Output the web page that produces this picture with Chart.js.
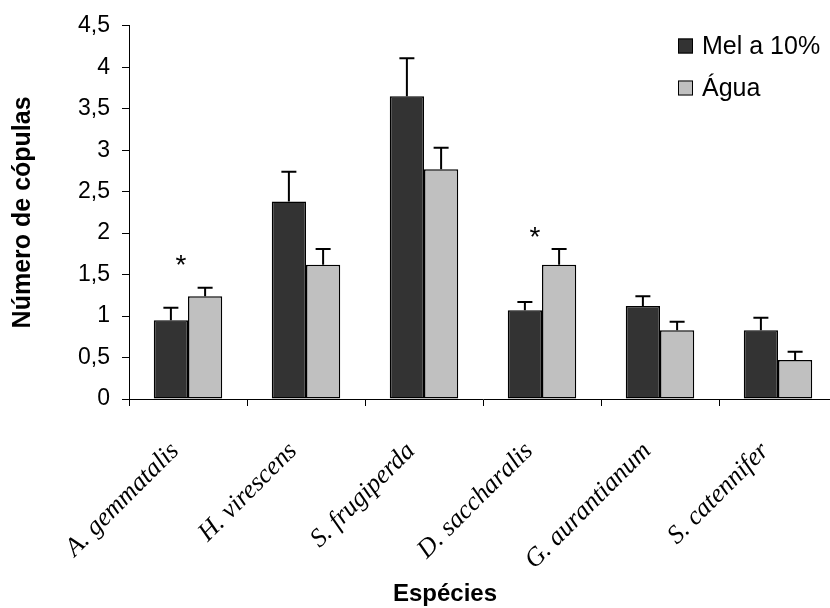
<!DOCTYPE html>
<html>
<head>
<meta charset="utf-8">
<script src="https://cdn.jsdelivr.net/npm/chart.js@4.4.1/dist/chart.umd.min.js"></script>
<style>
  html, body { margin: 0; padding: 0; background: #fff; overflow: hidden; }
  #wrap { width: 830px; height: 608px; overflow: hidden; }
</style>
</head>
<body>
<div id="wrap"><canvas id="chart" width="837" height="608"></canvas></div>
<script>
'use strict';

// data
const species = ['A. gemmatalis', 'H. virescens', 'S. frugiperda', 'D. saccharalis', 'G. aurantianum', 'S. catennifer'];
const melMeans = [0.95, 2.38, 3.65, 1.07, 1.12, 0.83];
const melErr = [0.15, 0.36, 0.46, 0.10, 0.12, 0.15];
const aguaMeans = [1.24, 1.62, 2.77, 1.62, 0.83, 0.47];
const aguaErr = [0.10, 0.19, 0.26, 0.19, 0.10, 0.10];
const signif = ['*', '', '', '*', '', ''];
const signifAt = [1.65, null, null, 1.99, null, null];
const yTickLabels = ['0', '0,5', '1', '1,5', '2', '2,5', '3', '3,5', '4', '4,5'];

const sans = '"Liberation Sans", Arial, sans-serif';
const serif = '"Liberation Serif", "Times New Roman", serif';
const errors = [melErr, aguaErr];

// error bars, stars, rotated species names, x title and legend
const extras = {
    id: 'extras',
    afterDatasetsDraw(chart) {
        const ctx = chart.ctx;
        const ys = chart.scales.y;
        ctx.save();
        ctx.strokeStyle = '#000';
        ctx.lineWidth = 2;
        chart.data.datasets.forEach((ds, d) => {
            const meta = chart.getDatasetMeta(d);
            meta.data.forEach((bar, j) => {
                const top = ys.getPixelForValue(ds.data[j] + errors[d][j]);
                ctx.beginPath();
                ctx.moveTo(bar.x, bar.y);
                ctx.lineTo(bar.x, top);
                ctx.moveTo(bar.x - 7.5, top);
                ctx.lineTo(bar.x + 7.5, top);
                ctx.stroke();
            });
        });
        ctx.restore();
    },
    afterDraw(chart) {
        const ctx = chart.ctx;
        const xs = chart.scales.x;
        const ys = chart.scales.y;
        ctx.save();
        ctx.fillStyle = '#000';

        // significance stars
        ctx.font = '28px ' + sans;
        ctx.textAlign = 'center';
        ctx.textBaseline = 'middle';
        signif.forEach((s, i) => {
            if (!s) return;
            ctx.fillText(s, xs.getPixelForValue(i) - 7, ys.getPixelForValue(signifAt[i]) + 4);
        });

        // species names, rotated 45 degrees
        ctx.font = 'italic 26px ' + serif;
        ctx.textAlign = 'right';
        ctx.textBaseline = 'alphabetic';
        species.forEach((name, i) => {
            ctx.save();
            ctx.translate(xs.getPixelForValue(i) - 8, xs.top + 53);
            ctx.rotate(-Math.PI / 4);
            ctx.fillText(name, 0, 0);
            ctx.restore();
        });

        // x axis title
        ctx.font = 'bold 24px ' + sans;
        ctx.textAlign = 'center';
        ctx.fillText('Espécies', 445, 601);

        // legend
        ctx.font = '25px ' + sans;
        ctx.textAlign = 'left';
        ctx.textBaseline = 'middle';
        chart.data.datasets.forEach((ds, d) => {
            const rowY = 46 + d * 42;
            ctx.fillStyle = ds.backgroundColor;
            ctx.fillRect(678, rowY - 7.5, 15, 15);
            ctx.strokeStyle = '#000';
            ctx.lineWidth = 1;
            ctx.strokeRect(678.5, rowY - 7, 14, 14);
            ctx.fillStyle = '#000';
            ctx.fillText(ds.label, 702, rowY + 1);
        });
        ctx.restore();
    }
};

const ctx = document.getElementById('chart').getContext('2d');
new Chart(ctx, {
    type: 'bar',
    data: {
        labels: species,
        datasets: [{
            label: 'Mel a 10%',
            data: melMeans,
            backgroundColor: '#333333',
            borderColor: '#000',
            borderWidth: 1.5,
            borderSkipped: false
        }, {
            label: 'Água',
            data: aguaMeans,
            backgroundColor: '#c0c0c0',
            borderColor: '#000',
            borderWidth: 1.5,
            borderSkipped: false
        }]
    },
    options: {
        responsive: false,
        animation: false,
        categoryPercentage: 0.58,
        barPercentage: 1.0,
        layout: { padding: { top: 22, left: 0, right: 0, bottom: 0 } },
        plugins: {
            legend: { display: false },
            tooltip: { enabled: false }
        },
        scales: {
            x: {
                ticks: { display: false },
                grid: { drawOnChartArea: false, offset: true, tickLength: 7, color: '#000' },
                border: { color: '#000', width: 1 },
                afterFit: (s) => { s.height = 209; }
            },
            y: {
                min: 0,
                max: 4.5,
                ticks: {
                    stepSize: 0.5,
                    color: '#000',
                    padding: 12,
                    font: { family: sans, size: 23 },
                    callback: (v, i) => yTickLabels[i]
                },
                grid: { drawOnChartArea: false, tickLength: 7, color: '#000' },
                border: { color: '#000', width: 1 },
                title: {
                    display: true,
                    text: 'Número de cópulas',
                    color: '#000',
                    font: { family: sans, size: 25, weight: 'bold' },
                    padding: { top: 8, bottom: 0 }
                },
                afterFit: (s) => { s.width = 129; }
            }
        }
    },
    plugins: [extras]
});
</script>
</body>
</html>
